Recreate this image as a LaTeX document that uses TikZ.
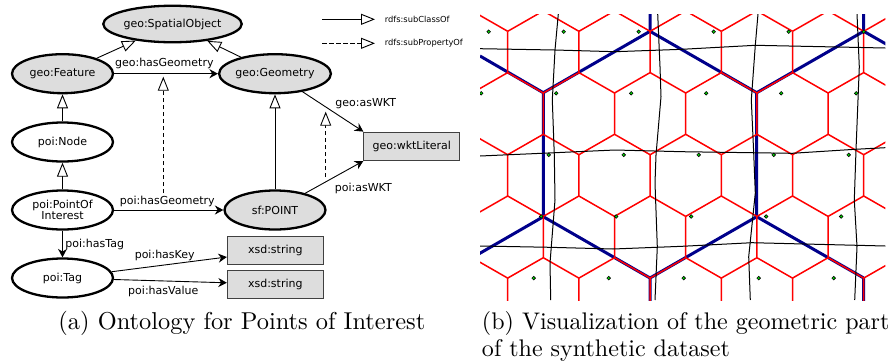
\documentclass[tikz,border=0pt]{standalone}
\usepackage{fontspec}
\usetikzlibrary{arrows.meta, shapes.geometric}
\newfontfamily\labelfont{DejaVu Sans}
\definecolor{boxgray}{HTML}{DDDDDD}
\definecolor{hexblue}{RGB}{0,0,139}
\definecolor{dotgreen}{RGB}{0,220,0}
\tikzset{
  concept/.style={ellipse, draw=black, line width=2.3pt, fill=white, inner sep=0,
    minimum width=101pt, minimum height=39pt, align=center, font=\labelfont\fontsize{11}{12.5}\selectfont},
  grayconcept/.style={concept, fill=boxgray},
  literal/.style={rectangle, draw=black!75, line width=0.9pt, fill=boxgray, inner sep=0,
    minimum width=96pt, minimum height=28.5pt, font=\labelfont\fontsize{11}{12.5}\selectfont},
  edgelabel/.style={inner sep=0, font=\labelfont\fontsize{11}{12.5}\selectfont},
  legendlabel/.style={inner sep=0, anchor=west, font=\labelfont\fontsize{8.3}{10}\selectfont},
  subclass/.style={line width=0.9pt, -{Triangle[open, length=14pt, width=11pt, fill=white]}},
  subprop/.style={subclass, dash pattern=on 4.5pt off 2.5pt},
  relation/.style={line width=0.9pt, -{Stealth[length=8.5pt, width=9pt]}},
  capt/.style={inner sep=0, anchor=base west, scale=2.44},
}
\begin{document}
\begin{tikzpicture}[x=1pt, y=-1pt]
    \useasboundingbox (0,0) rectangle (894,362);

    % Ontology classes
    \node[grayconcept, minimum width=117pt, minimum height=36.5pt] (spatial) at (172.5,24) {geo:SpatialObject};
    \node[grayconcept] (feature) at (62.5,73.7) {geo:Feature};
    \node[grayconcept] (geometry) at (275,73.7) {geo:Geometry};
    \node[concept] (poinode) at (62.5,142) {poi:Node};
    \node[concept] (pointof) at (62.5,210) {poi:PointOf\\[-1pt]Interest};
    \node[grayconcept] (sfpoint) at (275,210) {sf:POINT};
    \node[concept] (poitag) at (62.5,278) {poi:Tag};

    % Literals
    \node[literal] (wkt) at (411.8,146.3) {geo:wktLiteral};
    \node[literal] (xsdkey) at (275.3,250.2) {xsd:string};
    \node[literal] (xsdvalue) at (275.3,284.2) {xsd:string};

    % Edge labels
    \node[edgelabel] (lblfeature) at (164.3,63.3) {geo:hasGeometry};
    \node[edgelabel] (lblpoint) at (167.3,201.7) {poi:hasGeometry};
    \node[edgelabel] (lblaswkt) at (365.7,103.3) {geo:asWKT};
    \node[edgelabel] (lblpoiwkt) at (363.3,188.3) {poi:asWKT};
    \node[edgelabel] (lbltag) at (94.7,244) {poi:hasTag};
    \node[edgelabel] (lblkey) at (164.7,255.3) {poi:hasKey};
    \node[edgelabel] (lblvalue) at (163.3,291) {poi:hasValue};

    % Class hierarchy
    \draw[subclass] (feature) -- (spatial);
    \draw[subclass] (geometry) -- (spatial);
    \draw[subclass] (poinode) -- (feature);
    \draw[subclass] (pointof) -- (poinode);
    \draw[subclass] (sfpoint) -- (geometry);

    % Properties
    \draw[relation] (feature) -- (geometry);
    \draw[relation] (pointof) -- (sfpoint);
    \draw[relation] (pointof) -- (poitag);
    \draw[relation] (geometry) -- (wkt.north west);
    \draw[relation] (sfpoint) -- (wkt.south west);
    \draw[relation] (poitag) -- (xsdkey.188);
    \draw[relation] (poitag) -- (xsdvalue);

    % Sub-property arrows
    \coordinate (geomfoot) at (163.3,193);
    \coordinate (geomtip) at (163.3,76.7);
    \coordinate (wktfoot) at (325.7,177);
    \coordinate (wkttip) at (325.7,111.7);
    \draw[subprop] (geomfoot) -- (geomtip);
    \draw[subprop] (wktfoot) -- (wkttip);

    % Legend
    \coordinate (legafrom) at (322.3,19.3);
    \coordinate (legato) at (375,19.3);
    \coordinate (legbfrom) at (322.3,43.3);
    \coordinate (legbto) at (375,43.3);
    \draw[subclass] (legafrom) -- (legato);
    \draw[subprop] (legbfrom) -- (legbto);
    \node[legendlabel] (legatext) at (384.7,19.3) {rdfs:subClassOf};
    \node[legendlabel] (legbtext) at (384.7,43.3) {rdfs:subPropertyOf};

    % Geometric part of the dataset
    \begin{scope}
      \clip (480,14) rectangle (885.3,300);

      % Large hexagons
      \draw[hexblue, line width=3pt]
        (480,56) -- (543.3,92.7) -- (650,31.3) -- (756.7,92.7) -- (863.7,31.3) -- (900,52)
        (650,0) -- (650,31.3)
        (863.7,0) -- (863.7,31.3)
        (543.3,92.7) -- (543.3,216.7)
        (756.7,92.7) -- (756.7,216.7)
        (470,259) -- (543.3,216.7) -- (650,278) -- (756.7,216.7) -- (863.7,278)
        (650,278) -- (650,310)
        (863.7,278) -- (863.7,310);

      % Small hexagons
      \foreach \row in {-1,...,4} {
        \pgfmathsetmacro{\ytop}{31.3+61.7*\row}
        \pgfmathsetmacro{\xbase}{507.7+35.6*mod(\row+2,2)}
        \foreach \col in {-1,...,6} {
          \pgfmathsetmacro{\xv}{\xbase+71.2*\col}
          \draw[red, line width=1.5pt] (\xv,\ytop) -- (\xv,\ytop+41.3)
            (\xv-35.6,\ytop+61.7) -- (\xv,\ytop+41.3) -- (\xv+35.6,\ytop+61.7);
        }
      }

      % Roads
      \draw[black, line width=1pt] (480,48.7) -- (555,50) -- (615,51.7) -- (682,49.3) -- (755.3,45.3) -- (885.3,48);
      \draw[black, line width=1pt] (480,156) -- (541.7,153.3) -- (615,150) -- (682,151.7) -- (792,153.3) -- (855,149.3) -- (885.3,147.7);
      \draw[black, line width=1pt] (480,246) -- (550,247.3) -- (613,249) -- (682,246.3) -- (752,242.7) -- (885.3,246);
      \draw[black, line width=1pt] (558.3,14) -- (555,50) -- (552.3,100) -- (554.3,155) -- (555,200) -- (550,263) -- (550.7,300);
      \draw[black, line width=1pt] (657.7,14) -- (660,66.7) -- (661,96.7) -- (656,155) -- (655,183) -- (657.3,246.7) -- (655,300);
      \draw[black, line width=1pt] (758,14) -- (755.3,45.3) -- (751.3,100) -- (753.7,153) -- (755.3,193) -- (748.7,256.7) -- (750.3,300);
      \draw[black, line width=1pt] (857,14) -- (859.3,66.7) -- (856,150) -- (854.3,200) -- (857,246.7) -- (854.7,300);

      % Points
      \foreach \row in {0,...,4} {
        \pgfmathsetmacro{\ydot}{31.7+61.6*\row}
        \foreach \col in {0,...,6} {
          \pgfmathsetmacro{\xdot}{488.7-7.5*\row+75*\col}
          \fill[dotgreen, draw=black, line width=0.6pt] (\xdot,\ydot) circle (1.8pt);
        }
      }
    \end{scope}

    % Captions
    \node[capt] (capta) at (58,329) {(a) Ontology for Points of Interest};
    \node[capt, scale=0.985] (captb) at (481.5,329) {(b) Visualization of the geometric part};
    \node[capt, scale=0.985] (captc) at (481.5,356) {of the synthetic dataset};
\end{tikzpicture}
\end{document}
